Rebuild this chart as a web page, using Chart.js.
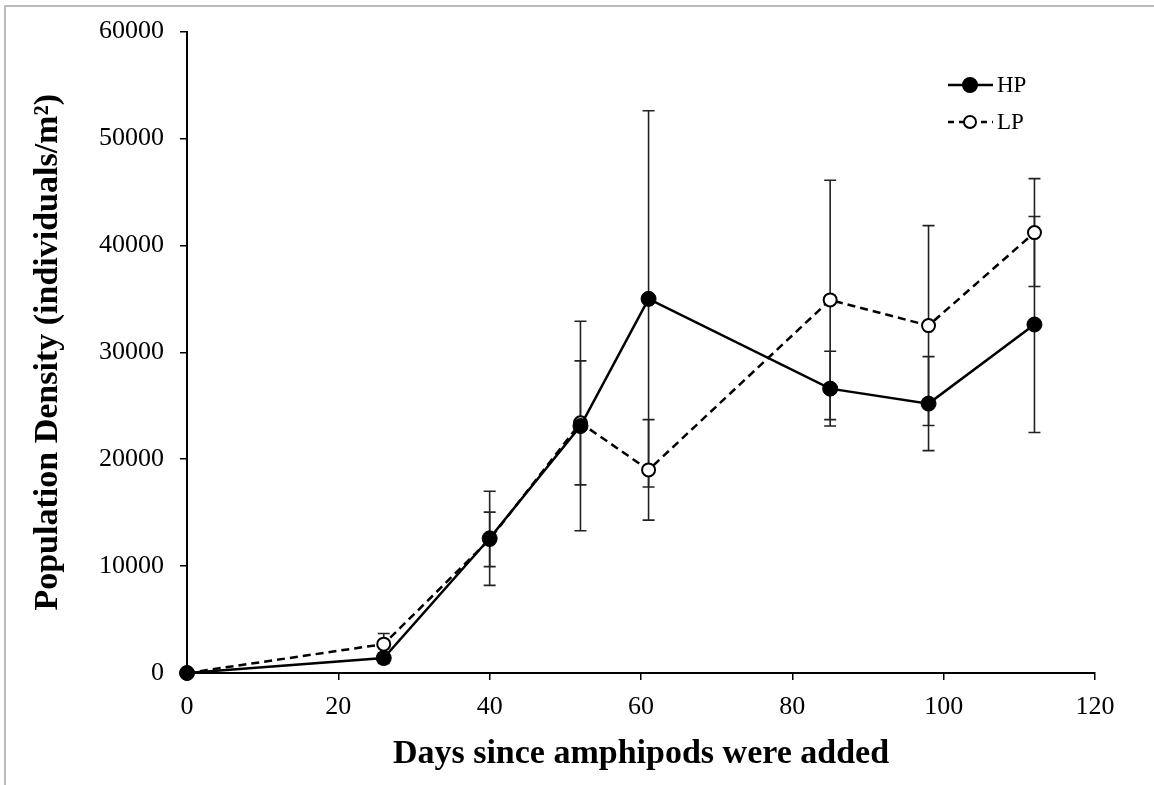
<!DOCTYPE html>
<html>
<head>
<meta charset="utf-8">
<script src="https://cdn.jsdelivr.net/npm/chart.js@4.4.1/dist/chart.umd.min.js"></script>
<style>
  html, body { margin: 0; padding: 0; background: #fff; }
  #wrap { width: 1154px; height: 785px; position: relative; }
</style>
</head>
<body>
<div id="wrap"><canvas id="line-chart" width="1154" height="785"></canvas></div>
<script>
// days since amphipods were added
var days = [0, 26, 40, 52, 61, 85, 98, 112];

// population density (individuals/m2) and error bars
var hp    = [0, 1400, 12600, 23100, 35000, 26600, 25200, 32600];
var hpErr = [0, 500, 4400, 9800, 17600, 3500, 4400, 10100];
var lp    = [0, 2700, 12500, 23400, 19000, 34900, 32500, 41200];
var lpErr = [0, 1000, 2550, 5800, 4700, 11200, 9350, 5050];

var xTicks = [0, 20, 40, 60, 80, 100, 120];
var yTicks = [0, 10000, 20000, 30000, 40000, 50000, 60000];

var serif = "'Liberation Serif', 'Times New Roman', serif";

function toPoints(ys) {
  return days.map(function (d, i) { return { x: d, y: ys[i] }; });
}

// draws vertical error bars with caps, through the chart scales
var errorBars = {
  id: 'errorBars',
  beforeDatasetsDraw: function (chart) {
    var ctx = chart.ctx;
    var xs = chart.scales.x, ys = chart.scales.y;
    var sets = [[hp, hpErr], [lp, lpErr]];
    ctx.save();
    ctx.strokeStyle = '#222';
    ctx.lineWidth = 1.6;
    sets.forEach(function (s) {
      days.forEach(function (d, i) {
        if (!s[1][i]) return;
        var px = xs.getPixelForValue(d);
        var top = ys.getPixelForValue(s[0][i] + s[1][i]);
        var bot = ys.getPixelForValue(s[0][i] - s[1][i]);
        ctx.beginPath();
        ctx.moveTo(px, top); ctx.lineTo(px, bot);
        ctx.moveTo(px - 6, top); ctx.lineTo(px + 6, top);
        ctx.moveTo(px - 6, bot); ctx.lineTo(px + 6, bot);
        ctx.stroke();
      });
    });
    ctx.restore();
  }
};

// legend in the top right corner + frame lines
var extras = {
  id: 'extras',
  beforeDraw: function (chart) {
    var ctx = chart.ctx;
    ctx.save();
    ctx.strokeStyle = '#bcbcbc';
    ctx.lineWidth = 2;
    ctx.beginPath();
    ctx.moveTo(5, 785); ctx.lineTo(5, 6); ctx.lineTo(1154, 6);
    ctx.stroke();
    ctx.restore();
  },
  afterDraw: function (chart) {
    var ctx = chart.ctx;
    var items = [
      { label: 'HP', y: 85, dash: [], fill: '#000' },
      { label: 'LP', y: 122, dash: [6, 5], fill: '#fff' }
    ];
    ctx.save();
    items.forEach(function (it) {
      ctx.strokeStyle = '#000';
      ctx.lineWidth = 2.5;
      ctx.setLineDash(it.dash);
      ctx.beginPath();
      ctx.moveTo(948, it.y); ctx.lineTo(993, it.y);
      ctx.stroke();
      ctx.setLineDash([]);
      ctx.beginPath();
      ctx.arc(970, it.y, it.fill == '#000' ? 7 : 6, 0, Math.PI * 2);
      ctx.fillStyle = it.fill;
      ctx.fill();
      ctx.lineWidth = 2;
      ctx.stroke();
      ctx.fillStyle = '#000';
      ctx.font = '23px ' + serif;
      ctx.textBaseline = 'middle';
      ctx.fillText(it.label, 997, it.y + 1);
    });
    ctx.restore();
  }
};

new Chart(document.getElementById('line-chart'), {
  type: 'line',
  data: {
    datasets: [{
      label: 'HP',
      data: toPoints(hp),
      borderColor: '#000',
      borderWidth: 2.5,
      pointRadius: 7.5,
      pointBackgroundColor: '#000',
      pointBorderColor: '#000',
      pointBorderWidth: 1,
      tension: 0,
      clip: false
    }, {
      label: 'LP',
      data: toPoints(lp),
      borderColor: '#000',
      borderWidth: 2.5,
      borderDash: [8, 5],
      pointRadius: 6.5,
      pointBackgroundColor: '#fff',
      pointBorderColor: '#000',
      pointBorderWidth: 2,
      tension: 0,
      clip: false
    }]
  },
  options: {
    responsive: false,
    animation: false,
    events: [],
    layout: { padding: { left: 0, top: 25, right: 59, bottom: 0 } },
    plugins: {
      legend: { display: false },
      tooltip: { enabled: false }
    },
    scales: {
      x: {
        type: 'linear',
        min: 0,
        max: 120,
        afterFit: function (s) { s.height = 112; },
        afterBuildTicks: function (s) { s.ticks = xTicks.map(function (v) { return { value: v }; }); },
        border: { color: '#000', width: 2 },
        grid: { drawOnChartArea: false, drawTicks: true, tickLength: 7, color: '#000', lineWidth: 1.5 },
        ticks: {
          padding: 12,
          color: '#000',
          font: { family: serif, size: 26 },
          maxRotation: 0,
          callback: function (v) { return String(v); }
        },
        title: {
          display: true,
          text: 'Days since amphipods were added',
          color: '#000',
          font: { family: serif, size: 34, weight: 'bold' },
          padding: { top: 0, bottom: 10 }
        }
      },
      y: {
        min: 0,
        max: 60000,
        afterFit: function (s) { s.width = 187; },
        afterBuildTicks: function (s) { s.ticks = yTicks.map(function (v) { return { value: v }; }); },
        border: { color: '#000', width: 2 },
        grid: { drawOnChartArea: false, drawTicks: true, tickLength: 7, color: '#000', lineWidth: 1.5 },
        ticks: {
          padding: 16,
          color: '#000',
          font: { family: serif, size: 26 },
          callback: function (v) { return String(v); }
        },
        title: {
          display: true,
          text: 'Population Density (individuals/m²)',
          color: '#000',
          font: { family: serif, size: 34, weight: 'bold' },
          padding: { top: 28, bottom: 0 }
        }
      }
    }
  },
  plugins: [errorBars, extras]
});
</script>
</body>
</html>
